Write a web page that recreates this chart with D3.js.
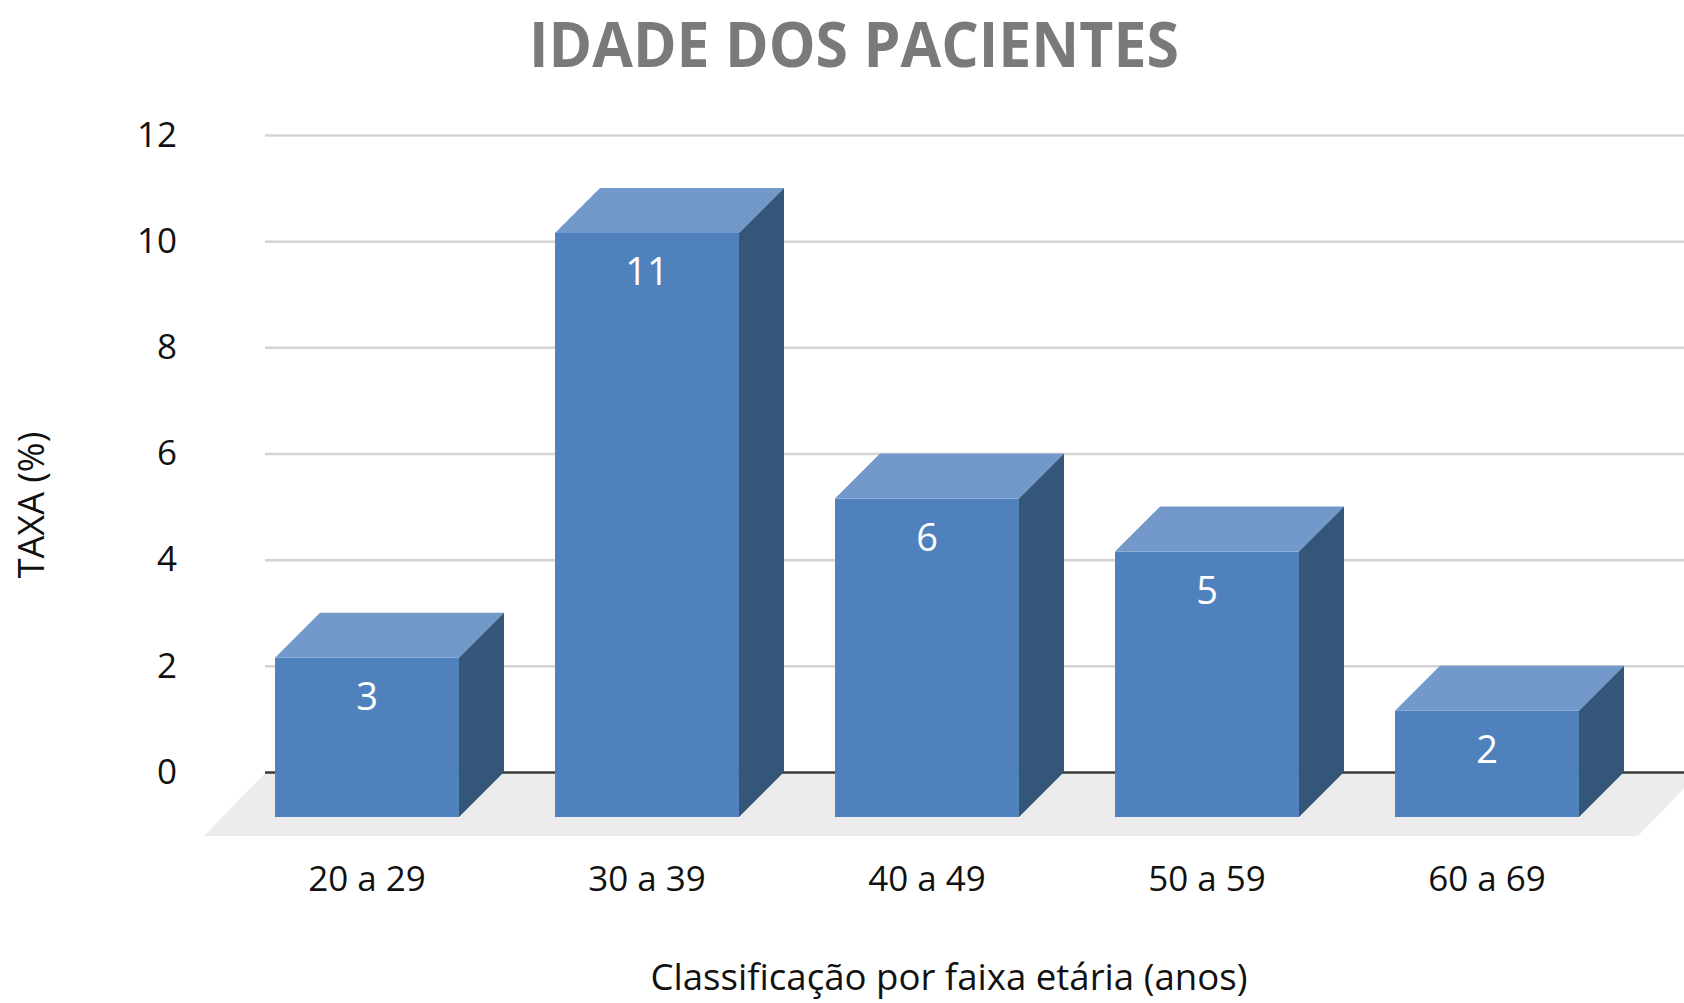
<!DOCTYPE html>
<html>
<head>
<meta charset="utf-8">
<script src="https://cdn.jsdelivr.net/npm/d3@7"></script>
<style>
	body { margin: 0; background: #fff; }
	svg { display: block; }
</style>
</head>
<body>
<div id="chart"></div>
<script>
/* idade dos pacientes - 3d column chart */

var categories = ["20 a 29", "30 a 39", "40 a 49", "50 a 59", "60 a 69"];
var values = [3, 11, 6, 5, 2];
var yTicks = [0, 2, 4, 6, 8, 10, 12];

var titleText = "IDADE DOS PACIENTES";
var xTitle = "Classificação por faixa etária (anos)";
var yTitle = "TAXA (%)";

var width = 1684, height = 1003;

// depth of the bars and of the floor (back plane -> front)
var depth = {dx: -45, dy: 45};
var floorDepth = {dx: -62, dy: 64};

var svg = d3.select("#chart").append("svg")
	.attr("width", width)
	.attr("height", height);

// scales live on the back plane (where the gridlines are)
var x = d3.scaleBand()
	.domain(categories)
	.range([272, 1672])
	.paddingInner(0.343)
	.paddingOuter(0.1715);

var y = d3.scaleLinear()
	.domain([0, 12])
	.range([772, 135]);

// title
svg.append("text")
	.attr("x", 854)
	.attr("y", 67)
	.attr("text-anchor", "middle")
	.attr("textLength", 650)
	.attr("lengthAdjust", "spacingAndGlyphs")
	.style("font-family", "'Open Sans', sans-serif")
	.style("font-weight", "bold")
	.style("font-size", "62px")
	.style("fill", "#7a7a7a")
	.text(titleText);

// floor
var fl = 266, fr = 1700, f0 = y(0);
svg.append("path")
	.attr("d", `M${fl},${f0} L${fr},${f0} L${fr + floorDepth.dx},${f0 + floorDepth.dy} L${fl + floorDepth.dx},${f0 + floorDepth.dy} Z`)
	.style("fill", "#ececec");

// gridlines
var yAxis = d3.axisLeft(y)
	.tickValues(yTicks)
	.tickSize(-(width - 265))
	.tickPadding(88);

var gy = svg.append("g")
	.attr("transform", "translate(265,0)")
	.call(yAxis);

gy.select(".domain").remove();
gy.selectAll(".tick line")
	.style("stroke", d => d === 0 ? "#3a3a3a" : "#d4d4d4")
	.style("stroke-width", 2.5);
gy.selectAll(".tick text")
	.style("font-family", "'Open Sans', sans-serif")
	.style("font-size", "35px")
	.style("fill", "#111");

// bars
var bars = svg.selectAll(".bar")
	.data(values)
	.enter()
	.append("g")
	.attr("class", "bar");

// front face
bars.append("path")
	.attr("d", (d, i) => {
		let x0 = x(categories[i]) + depth.dx, x1 = x0 + x.bandwidth();
		let yt = y(d) + depth.dy, yb = y(0) + depth.dy;
		return `M${x0},${yt} L${x1},${yt} L${x1},${yb} L${x0},${yb} Z`;
	})
	.style("fill", "#4f81bd");

// top face
bars.append("path")
	.attr("d", (d, i) => {
		let x0 = x(categories[i]), x1 = x0 + x.bandwidth(), yt = y(d);
		return `M${x0},${yt} L${x1},${yt} L${x1 + depth.dx},${yt + depth.dy} L${x0 + depth.dx},${yt + depth.dy} Z`;
	})
	.style("fill", "#7299ca");

// side face
bars.append("path")
	.attr("d", (d, i) => {
		let x1 = x(categories[i]) + x.bandwidth(), yt = y(d), yb = y(0);
		return `M${x1},${yt} L${x1},${yb} L${x1 + depth.dx},${yb + depth.dy} L${x1 + depth.dx},${yt + depth.dy} Z`;
	})
	.style("fill", "#335679");

// value labels
bars.append("text")
	.attr("x", (d, i) => x(categories[i]) + depth.dx + x.bandwidth() / 2)
	.attr("y", d => y(d) + depth.dy + 52)
	.attr("text-anchor", "middle")
	.style("font-family", "'Open Sans', sans-serif")
	.style("font-size", "38px")
	.style("fill", "#fff")
	.text(d => d);

// category labels
svg.selectAll(".cat")
	.data(categories)
	.enter()
	.append("text")
	.attr("class", "cat")
	.attr("x", d => x(d) + depth.dx + x.bandwidth() / 2)
	.attr("y", 891)
	.attr("text-anchor", "middle")
	.style("font-family", "'Open Sans', sans-serif")
	.style("font-size", "35px")
	.style("fill", "#111")
	.text(d => d);

// axis titles
svg.append("text")
	.attr("x", 949)
	.attr("y", 990)
	.attr("text-anchor", "middle")
	.attr("textLength", 597)
	.attr("lengthAdjust", "spacingAndGlyphs")
	.style("font-family", "'Open Sans', sans-serif")
	.style("font-size", "36px")
	.style("fill", "#111")
	.text(xTitle);

svg.append("text")
	.attr("transform", "translate(44,505) rotate(-90)")
	.attr("text-anchor", "middle")
	.style("font-family", "'Open Sans', sans-serif")
	.style("font-size", "36px")
	.style("fill", "#111")
	.text(yTitle);
</script>
</body>
</html>
